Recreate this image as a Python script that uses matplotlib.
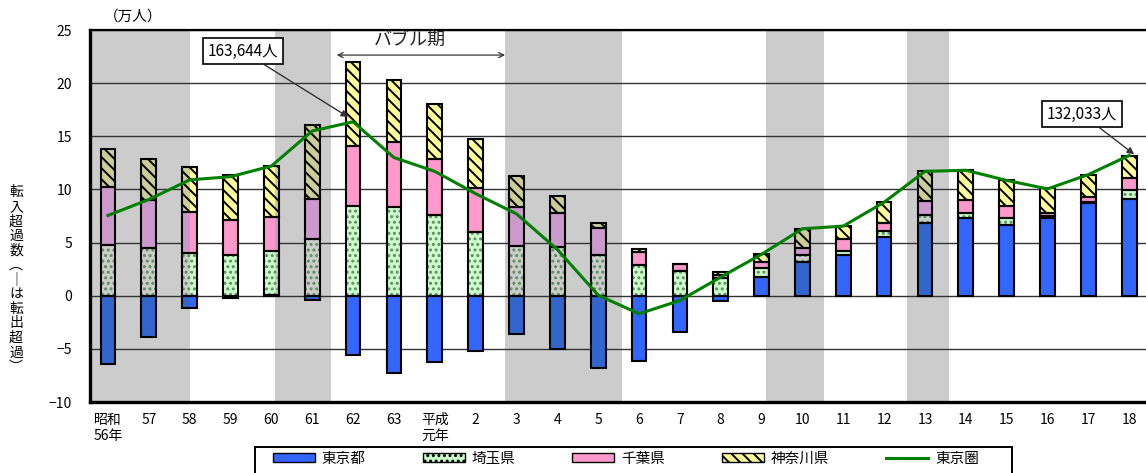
import matplotlib
matplotlib.use("Agg")
import matplotlib.pyplot as plt
import matplotlib.colors as mcolors
from matplotlib.patches import Patch, Rectangle
from matplotlib.lines import Line2D
import numpy as np

plt.rcParams["font.family"] = ["Noto Sans CJK JP", "DejaVu Sans"]
plt.rcParams["hatch.linewidth"] = 1.4

# 年次（昭和56年〜平成18年）
years = ["昭和\n56年", "57", "58", "59", "60", "61", "62", "63", "平成\n元年",
         "2", "3", "4", "5", "6", "7", "8", "9", "10", "11", "12", "13",
         "14", "15", "16", "17", "18"]

# 転入超過数（万人）
tokyo = [-6.4, -3.9, -1.2, -0.2, 0.1, -0.45, -5.6, -7.3, -6.2, -5.2, -3.6,
         -5.0, -6.8, -6.1, -3.4, -0.5, 1.8, 3.15, 3.8, 5.5, 6.85, 7.35,
         6.7, 7.3, 8.75, 9.1]
saitama = [4.8, 4.5, 4.0, 3.8, 4.1, 5.3, 8.4, 8.3, 7.55, 6.0, 4.65, 4.55,
           3.85, 2.9, 2.3, 1.65, 0.8, 0.7, 0.4, 0.55, 0.7, 0.45, 0.65, 0.2,
           0.1, 0.8]
chiba = [5.45, 4.5, 3.85, 3.35, 3.2, 3.8, 5.7, 6.15, 5.3, 4.15, 3.65, 3.25,
         2.5, 1.25, 0.7, 0.3, 0.55, 0.65, 1.15, 0.8, 1.35, 1.25, 1.1, 0.3,
         0.45, 1.15]
kanagawa = [3.6, 3.9, 4.25, 4.25, 4.8, 6.95, 7.9, 5.85, 5.15, 4.55, 2.95,
            1.55, 0.5, 0.2, 0.0, 0.3, 0.8, 1.8, 1.2, 1.95, 2.85, 2.75, 2.45,
            2.3, 2.1, 2.1]
tokyo_area = [7.55, 9.05, 10.9, 11.2, 12.2, 15.5, 16.3644, 13.0, 11.7, 9.6,
              7.7, 4.35, 0.05, -1.7, -0.45, 1.75, 3.9, 6.3, 6.55, 8.8, 11.7,
              11.8, 10.85, 10.05, 11.4, 13.2033]

# 景気後退期（網掛け）
shaded = [(-1.0, 2.0), (4.1, 5.45), (9.72, 12.58), (16.1, 17.53), (19.56, 20.59)]

names = ["東京都", "埼玉県", "千葉県", "神奈川県"]
faces = ["#3366FF", "#CCFFCC", "#FF99CC", "#FFFF99"]
hatch_cols = ["#3366FF", "#5A8F5A", "#FF99CC", "#000000"]
hatches = [None, "...", None, "\\\\\\"]


def darken(c):
    return tuple(np.minimum(mcolors.to_rgb(c), 0.8))


x = np.arange(len(years))
width = 0.36
series = [np.array(s, dtype=float) for s in (tokyo, saitama, chiba, kanagawa)]

# 正の値は上へ、負の値は下へ積み上げる
pos = np.zeros(len(x))
neg = np.zeros(len(x))
bottoms = []
for v in series:
    bottoms.append(np.where(v >= 0, pos, neg))
    pos = pos + np.clip(v, 0, None)
    neg = neg + np.clip(v, None, 0)

fig = plt.figure(figsize=(11.46, 4.73), dpi=100)
ax = fig.add_axes([90 / 1146, 71 / 473, 1056 / 1146, 372 / 473])
ax.set_xlim(-0.44, 25.41)
ax.set_ylim(-10, 25)

for x0, x1 in shaded:
    ax.axvspan(x0, x1, color="#CCCCCC", lw=0, zorder=0.2)

ax.set_axisbelow(True)
ax.yaxis.grid(True, color="#333333", lw=1.0)


def draw_stack(fc_list, hc_list, clip=None, z=2):
    for v, b, fc, hc, h in zip(series, bottoms, fc_list, hc_list, hatches):
        bars = ax.bar(x, v, width, bottom=b, color=fc, edgecolor=hc,
                      linewidth=0, hatch=h, zorder=z)
        if clip is not None:
            for p in bars:
                p.set_clip_path(clip)


draw_stack(faces, hatch_cols)
for x0, x1 in shaded:
    rect = Rectangle((x0, -10), x1 - x0, 35, transform=ax.transData)
    draw_stack([darken(c) for c in faces], [darken(c) for c in hatch_cols],
               clip=rect, z=2.1)

for v, b in zip(series, bottoms):
    ax.bar(x, v, width, bottom=b, fill=False, edgecolor="black",
           linewidth=1.5, zorder=3)

ax.plot(x, tokyo_area, color="#008000", lw=2.2, zorder=4)

# 軸・目盛
ax.set_yticks(range(-10, 26, 5))
ax.set_xticks(x)
ax.set_xticklabels(years, fontsize=10, linespacing=1.15)
ax.tick_params(axis="y", length=0, pad=13, labelsize=10)
ax.tick_params(axis="x", length=0, pad=8)
for side in ("left", "bottom"):
    ax.spines[side].set_linewidth(2.4)
ax.spines["top"].set_linewidth(1.6)
ax.spines["right"].set_visible(False)

fig.text(104 / 1146, 1 - 17 / 473, "（万人）", fontsize=10.5, va="center")

ylabel = ["転", "入", "超", "過", "数", "︵", "｜", "は", "転", "出", "超", "過", "︶"]
for i, ch in enumerate(ylabel):
    fig.text(16 / 1146, 1 - (192 + 14.6 * i) / 473, ch, fontsize=10,
             ha="center", va="center")

# 注記
box = dict(boxstyle="square,pad=0.3", fc="white", ec="black", lw=1.2)
arrow = dict(arrowstyle="-|>", color="#333333", lw=1.0, mutation_scale=10,
             shrinkA=0, shrinkB=0)
ax.annotate("163,644人", xy=(5.88, tokyo_area[6] + 0.45), xytext=(3.3, 23.0),
            fontsize=11, ha="center", va="center", bbox=box,
            arrowprops=arrow, zorder=6)
ax.annotate("132,033人", xy=(25.12, tokyo_area[25] + 0.1), xytext=(23.84, 17.08),
            fontsize=11, ha="center", va="center", bbox=box,
            arrowprops=arrow, zorder=6)

ax.annotate("", xy=(9.72, 22.64), xytext=(5.6, 22.64),
            arrowprops=dict(arrowstyle="<->", color="#333333", lw=0.9,
                            mutation_scale=9, shrinkA=0, shrinkB=0), zorder=6)
ax.text(7.39, 24.1, "バブル期", fontsize=13, ha="center", va="center",
        color="#222222", zorder=6)

# 凡例
handles = [Patch(facecolor=fc, edgecolor="black", hatch=h, lw=1.0)
           for fc, h in zip(faces, hatches)]
handles.append(Line2D([], [], color="#008000", lw=2.2))
labels = names + ["東京圏"]
fig.legend(handles, labels, loc="center left",
           bbox_to_anchor=(273 / 1146, 1 - 459 / 473), ncol=5, frameon=False,
           fontsize=10.5, handlelength=2.9, handleheight=0.6, handletextpad=0.45,
           columnspacing=3.9, borderpad=0, borderaxespad=0)
fig.patches.append(Rectangle((255 / 1146, -0.05), (1012 - 255) / 1146,
                             0.05 + 26 / 473, transform=fig.transFigure,
                             fill=False, ec="black", lw=1.4))

fig.savefig("out.png", dpi=100)
